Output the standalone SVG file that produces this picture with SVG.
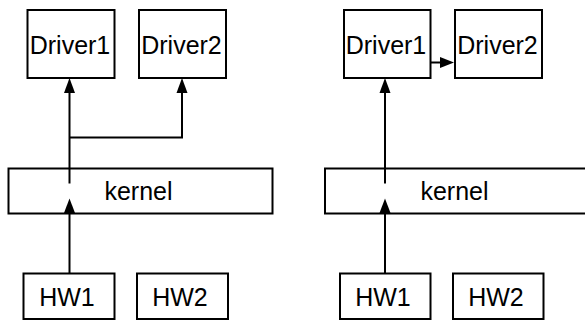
<svg xmlns="http://www.w3.org/2000/svg" width="585" height="321" viewBox="0 0 585 321">
  <style>
    .box { fill: #ffffff; stroke: #000000; stroke-width: 2; }
    .lbl { font-family: "Liberation Sans", Arial, sans-serif; font-size: 25px; fill: #000000; text-anchor: middle; }
    .wire { fill: none; stroke: #000000; stroke-width: 2; }
    .head { fill: #000000; stroke: none; }
  </style>
  <rect width="585" height="321" fill="#ffffff"/>

  <!-- Left: kernel fans out to both drivers -->
  <g id="left-kernel"><rect class="box" x="8.5" y="168.5" width="264" height="45"/><text class="lbl" x="138.5" y="200">kernel</text></g>
  <g id="left-driver1"><rect class="box" x="27.5" y="10" width="87" height="68"/><text class="lbl" x="70" y="54">Driver1</text></g>
  <g id="left-driver2"><rect class="box" x="139" y="10" width="87" height="68"/><text class="lbl" x="181.5" y="54">Driver2</text></g>
  <g id="left-hw1"><rect class="box" x="23.5" y="273.5" width="91" height="45.5"/><text class="lbl" x="67" y="306">HW1</text></g>
  <g id="left-hw2"><rect class="box" x="137" y="273.5" width="91" height="45.5"/><text class="lbl" x="180" y="306">HW2</text></g>

  <!-- Right: kernel to Driver1, Driver1 chains to Driver2 -->
  <g id="right-kernel"><rect class="box" x="325" y="168.5" width="275" height="45"/><text class="lbl" x="454.5" y="200">kernel</text></g>
  <g id="right-driver1"><rect class="box" x="344" y="10" width="86.5" height="68"/><text class="lbl" x="386" y="54">Driver1</text></g>
  <g id="right-driver2"><rect class="box" x="455" y="10" width="87" height="68"/><text class="lbl" x="497.5" y="54">Driver2</text></g>
  <g id="right-hw1"><rect class="box" x="340" y="273.5" width="90.5" height="45.5"/><text class="lbl" x="383" y="306">HW1</text></g>
  <g id="right-hw2"><rect class="box" x="453" y="273.5" width="90.5" height="45.5"/><text class="lbl" x="496" y="306">HW2</text></g>

  <g id="connectors">
    <!-- left -->
    <path class="wire" d="M69.5 273.5 V212"/>
    <polygon class="head" points="69.5,198.5 64,213 75,213"/>
    <path class="wire" d="M69.5 183.5 V92"/>
    <polygon class="head" points="69.5,78 64,93 75,93"/>
    <path class="wire" d="M69.5 137.5 H182 V92"/>
    <polygon class="head" points="182,78 176.5,93 187.5,93"/>
    <!-- right -->
    <path class="wire" d="M385 273.5 V212"/>
    <polygon class="head" points="385,198.5 379.5,213 390.5,213"/>
    <path class="wire" d="M385 183.5 V92"/>
    <polygon class="head" points="385,78 379.5,93 390.5,93"/>
    <path class="wire" d="M430.5 62.5 H441"/>
    <polygon class="head" points="454,62.5 440,57 440,68"/>
  </g>
</svg>
